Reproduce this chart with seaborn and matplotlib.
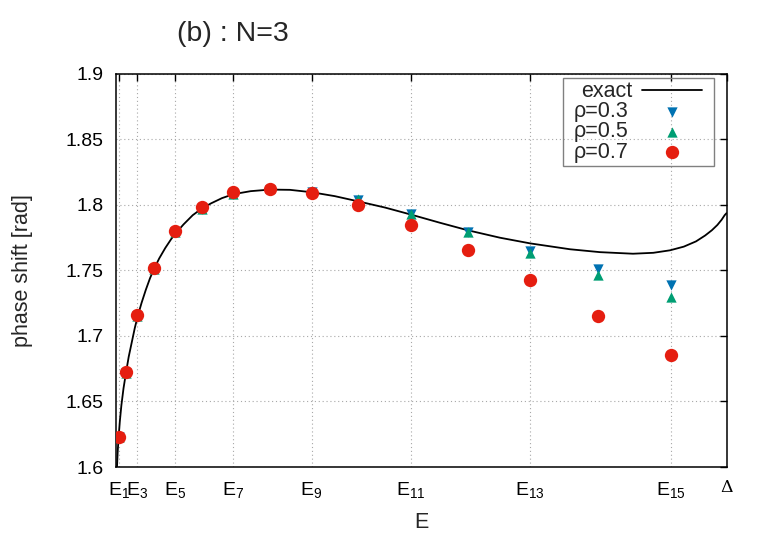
import matplotlib
matplotlib.use("Agg")
import matplotlib.pyplot as plt
import seaborn as sns
import pandas as pd
from matplotlib.ticker import FixedLocator, FixedFormatter
from matplotlib.patches import Rectangle

# ---------------- data ----------------
# energies E_1 ... E_15 in units of Delta (Delta = 1)
energy = [0.0038, 0.0156, 0.0344, 0.0615, 0.0967, 0.1397, 0.1918, 0.2516,
          0.3197, 0.3964, 0.4823, 0.5757, 0.6779, 0.7893, 0.9082]

phase_rho03 = [1.623, 1.672, 1.715, 1.751, 1.779, 1.797, 1.808, 1.8115,
               1.8100, 1.8035, 1.7930, 1.7795, 1.7650, 1.7508, 1.7389]
phase_rho05 = [1.623, 1.672, 1.715, 1.751, 1.779, 1.797, 1.808, 1.8128,
               1.8105, 1.8040, 1.7930, 1.7790, 1.7630, 1.7467, 1.7298]
phase_rho07 = [1.623, 1.6725, 1.716, 1.752, 1.7796, 1.798, 1.8094, 1.8122,
               1.8089, 1.8000, 1.7847, 1.7656, 1.7425, 1.7155, 1.6855]

exact_E = [0.0004, 0.0008, 0.0020, 0.0035, 0.0055, 0.0080, 0.0115, 0.0156,
           0.0200, 0.0250, 0.0300, 0.0348, 0.0410, 0.0480, 0.0550, 0.0615,
           0.0700, 0.0800, 0.0900, 0.0967, 0.1100, 0.1250, 0.1397, 0.1550,
           0.1730, 0.1918, 0.2200, 0.2516, 0.2844, 0.3197, 0.3578, 0.3964,
           0.4402, 0.4823, 0.5303, 0.5757, 0.6287, 0.6779, 0.7435, 0.7926,
           0.8467, 0.8800, 0.9074, 0.9300, 0.9500, 0.9650, 0.9760, 0.9850,
           0.9920, 0.9970, 1.0000]
exact_phase = [1.594, 1.600, 1.612, 1.623, 1.635, 1.647, 1.660, 1.672,
               1.684, 1.695, 1.706, 1.715, 1.725, 1.735, 1.744, 1.751,
               1.759, 1.767, 1.774, 1.778, 1.785, 1.792, 1.797, 1.801,
               1.805, 1.8080, 1.8103, 1.8115, 1.8113, 1.8095, 1.8065, 1.8025,
               1.7978, 1.7925, 1.7862, 1.7805, 1.7748, 1.7705, 1.7660, 1.7638,
               1.7626, 1.7633, 1.7652, 1.7680, 1.7720, 1.7765, 1.7805, 1.7845,
               1.7885, 1.7920, 1.7935]

xtick_labels = ["E$_1$", "E$_3$", "E$_5$", "E$_7$", "E$_9$", "E$_{11}$",
                "E$_{13}$", "E$_{15}$", "Δ"]
ytick_values = [1.6, 1.65, 1.7, 1.75, 1.8, 1.85, 1.9]
ytick_labels = ["1.6", "1.65", "1.7", "1.75", "1.8", "1.85", "1.9"]

series_labels = ["ρ=0.3", "ρ=0.5", "ρ=0.7"]
series_markers = ["v", "^", "o"]
series_colors = ["#0072b2", "#009e73", "#e51e10"]

# ---------------- styling ----------------
sns.set_style("white")
plt.rcParams["font.family"] = ["Liberation Sans", "DejaVu Sans"]
plt.rcParams["mathtext.fontset"] = "custom"
plt.rcParams["mathtext.rm"] = "Liberation Sans"
plt.rcParams["mathtext.it"] = "Liberation Sans"
plt.rcParams["mathtext.default"] = "regular"

FS_TICK = 14
FS_LAB = 15.5
W, H = 765, 535

fig = plt.figure(figsize=(W / 100, H / 100), dpi=100)
ax = fig.add_axes([116.5 / W, 1 - 467 / H, 610 / W, 393.5 / H])

exact_df = pd.DataFrame({"E": exact_E, "phase": exact_phase})
sns.lineplot(data=exact_df, x="E", y="phase", sort=False, color="black",
             linewidth=1.3, ax=ax, label="exact", zorder=2)

for vals, lab, mk, col, ms in zip([phase_rho03, phase_rho05, phase_rho07],
                                  series_labels, series_markers, series_colors,
                                  [55, 55, 92]):
    df = pd.DataFrame({"E": energy, "phase": vals})
    sns.scatterplot(data=df, x="E", y="phase", marker=mk, color=col, s=ms,
                    linewidth=0, ax=ax, label=lab, zorder=3)

ax.set_xlim(0, 1.0)
ax.set_ylim(1.6, 1.9)

xticks = energy[0::2] + [1.0]
ax.xaxis.set_major_locator(FixedLocator(xticks))
ax.xaxis.set_major_formatter(FixedFormatter(xtick_labels))
ax.yaxis.set_major_locator(FixedLocator(ytick_values))
ax.yaxis.set_major_formatter(FixedFormatter(ytick_labels))

ax.tick_params(axis="both", direction="in", length=5, width=1.0,
               colors="black", labelsize=FS_TICK, top=True, right=True)
ax.tick_params(axis="y", pad=9)
ax.tick_params(axis="x", pad=9)
for t in ax.get_xticklabels():
    if t.get_text() == "Δ":
        t.set_family(["DejaVu Serif"])
        t.set_fontsize(12.5)

ax.grid(True, linestyle=(0, (1, 2.5)), color="#a8a8a8", linewidth=0.8)
for s in ax.spines.values():
    s.set_color("black")
    s.set_linewidth(1.1)

ax.set_xlabel("E", fontsize=FS_LAB, labelpad=9)
ax.set_ylabel("phase shift [rad]", fontsize=FS_LAB, labelpad=24)

fig.text(233 / W, 1 - 34 / H, "(b) : N=3", ha="center", va="center",
         fontsize=20.5)

leg = ax.legend(loc="upper right",
                bbox_to_anchor=((704 - 116.5) / 610, (467 - 79) / 393.5),
                borderaxespad=0, fontsize=FS_LAB, markerfirst=False,
                handlelength=2.8, handletextpad=0.6, labelspacing=-0.04,
                borderpad=0.1, fancybox=False, frameon=False)

# right-align legend texts (gnuplot style)
fig.canvas.draw()
renderer = fig.canvas.get_renderer()
texts = leg.get_texts()
widths = [t.get_window_extent(renderer).width for t in texts]
wmax = max(widths)
for t, w in zip(texts, widths):
    t.set_position((wmax - w, 0))

# gnuplot-like key box: wider horizontal padding than vertical
lb = leg.get_window_extent(renderer)
x0, y0 = lb.x0 - 9, lb.y0 - 1
fig.patches.append(Rectangle((x0, y0), lb.width + 19, lb.height + 2,
                             transform=None, fill=False, edgecolor="#808080",
                             linewidth=1.0, zorder=5))

fig.savefig("out.png", dpi=100)
